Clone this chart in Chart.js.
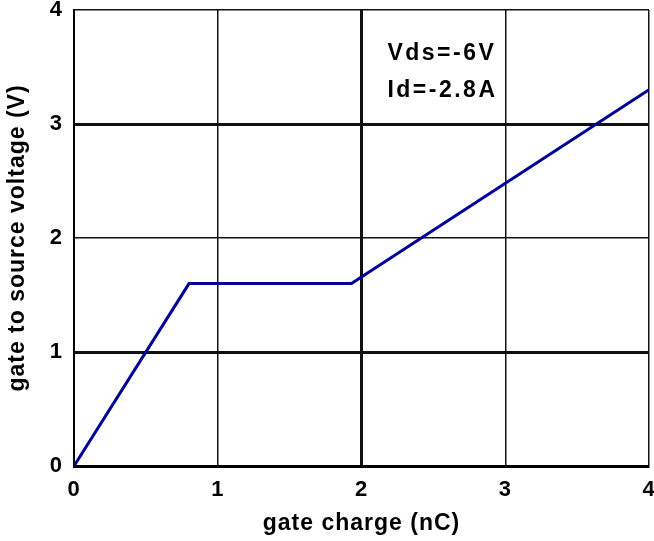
<!DOCTYPE html>
<html lang="en">
  <head>
    <meta charset="UTF-8" />
    <script src="https://cdn.jsdelivr.net/npm/chart.js@4.4.1/dist/chart.umd.min.js"></script>
    <title>gate charge</title>
    <style>
      html, body { margin: 0; padding: 0; background: #fff; }
      .chart_wrap { width: 654px; height: 541px; }
    </style>
  </head>
  <body>
    <div class="chart_wrap">
      <canvas id="myChart"></canvas>
    </div>

    <script>
      // gate charge (nC) vs gate to source voltage (V)
      const gateCharge = [0, 0.8, 1.93, 4];
      const gateVoltage = [0, 1.6, 1.6, 3.3];
      const xTicks = [0, 1, 2, 3, 4];
      const yTicks = [0, 1, 2, 3, 4];
      const noteLines = ["Vds=-6V", "Id=-2.8A"];

      const FONT = "'Liberation Sans', Arial, sans-serif";

      // 굵은 격자선 : x=2, y=0,1,3
      const thickX = [2];
      const thickY = [0, 1, 3];

      // 글자 간격 (원본 글꼴이 넓어서)
      const spacingPlugin = {
        id: "spacing",
        beforeLayout(chart) { chart.ctx.letterSpacing = "1px"; },
        beforeDraw(chart) { chart.ctx.letterSpacing = "1px"; },
      };

      const notePlugin = {
        id: "note",
        afterDraw(chart) {
          const ctx = chart.ctx;
          const x = chart.scales.x.getPixelForValue(2.18);
          const y = chart.scales.y.getPixelForValue(3.62);
          ctx.save();
          ctx.font = "bold 23px " + FONT;
          ctx.fillStyle = "#000";
          ctx.textBaseline = "middle";
          ctx.letterSpacing = "2.5px";
          noteLines.forEach((t, i) => ctx.fillText(t, x, y + i * 37));
          ctx.restore();
        },
      };

      const data = {
        datasets: [
          {
            data: gateCharge.map((x, i) => ({ x: x, y: gateVoltage[i] })),
            borderColor: "#000099",
            borderWidth: 3,
            pointRadius: 0,
            tension: 0,
          },
        ],
      };

      const config = {
        type: "line",
        data: data,
        options: {
          responsive: true,
          maintainAspectRatio: false,
          animation: false,
          layout: { padding: { top: 10, right: 5, left: 0, bottom: 0 } },
          plugins: { legend: { display: false }, tooltip: { enabled: false } },
          scales: {
            x: {
              type: "linear",
              min: 0,
              max: 4,
              afterBuildTicks: (s) => { s.ticks = xTicks.map((v) => ({ value: v })); },
              afterFit: (s) => { s.height = 75; s.paddingLeft = 0; s.paddingRight = 0; },
              grid: {
                drawTicks: false,
                color: "#111",
                lineWidth: (c) => (thickX.includes(c.tick && c.tick.value) ? 3 : 1.5),
              },
              border: { display: true, color: "#000", width: 3 },
              ticks: {
                padding: 11,
                color: "#000",
                font: { family: FONT, size: 22, weight: "bold" },
              },
              title: {
                display: true,
                text: "gate charge (nC)",
                color: "#000",
                padding: { top: 6 },
                font: { family: FONT, size: 23, weight: "bold" },
              },
            },
            y: {
              type: "linear",
              min: 0,
              max: 4,
              afterBuildTicks: (s) => { s.ticks = yTicks.map((v) => ({ value: v })); },
              afterFit: (s) => { s.width = 74; s.paddingTop = 0; s.paddingBottom = 0; },
              grid: {
                drawTicks: false,
                color: "#111",
                lineWidth: (c) => (thickY.includes(c.tick && c.tick.value) ? 3 : 1.5),
              },
              border: { display: true, color: "#000", width: 2 },
              ticks: {
                padding: 11,
                color: "#000",
                font: { family: FONT, size: 22, weight: "bold" },
              },
              title: {
                display: true,
                text: "gate to source voltage (V)",
                color: "#000",
                padding: { bottom: 4 },
                font: { family: FONT, size: 23, weight: "bold" },
              },
            },
          },
        },
        plugins: [spacingPlugin, notePlugin],
      };

      const myChart = new Chart(document.getElementById("myChart"), config);
    </script>
  </body>
</html>
